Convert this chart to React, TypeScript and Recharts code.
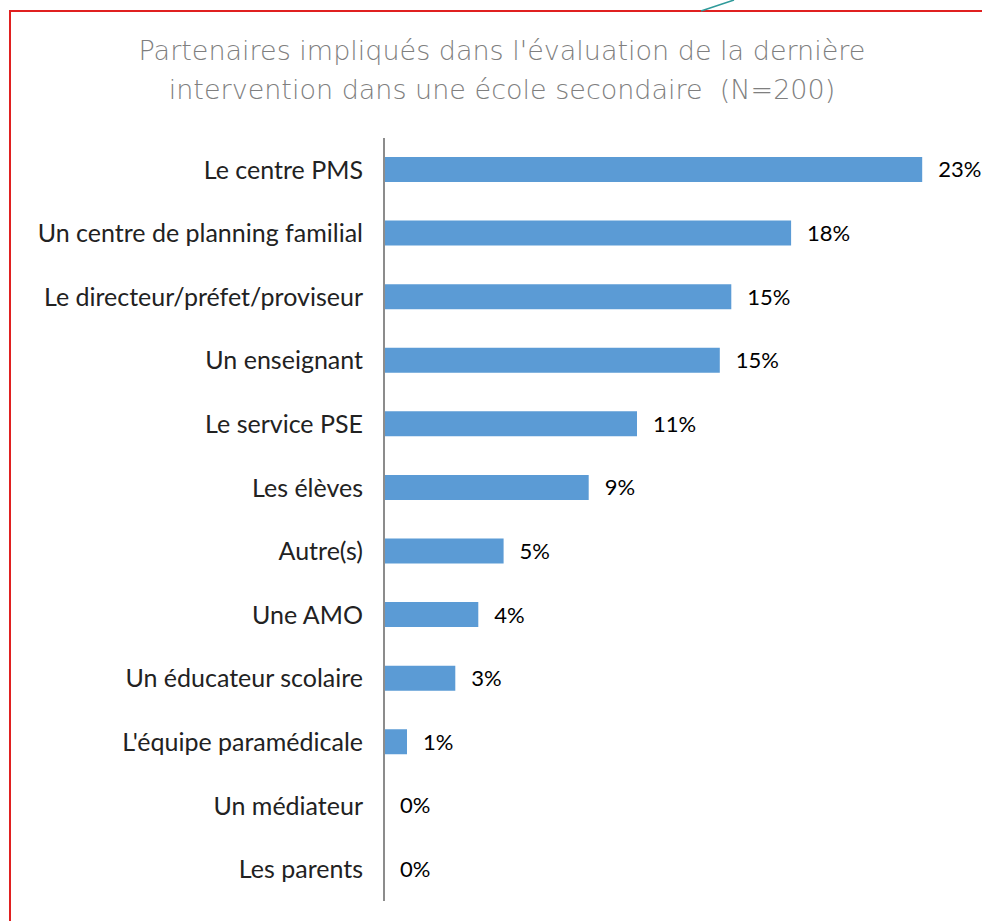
import { Bar, BarChart, LabelList, XAxis, YAxis } from "recharts"

const CATEGORIES = [
  "Le centre PMS",
  "Un centre de planning familial",
  "Le directeur/préfet/proviseur",
  "Un enseignant",
  "Le service PSE",
  "Les élèves",
  "Autre(s)",
  "Une AMO",
  "Un éducateur scolaire",
  "L'équipe paramédicale",
  "Un médiateur",
  "Les parents",
]

// share of partners (%)
const SHARES = [23.4, 17.7, 15.1, 14.6, 11.0, 8.9, 5.2, 4.1, 3.1, 1.0, 0, 0]

const TITLE_LINES = [
  "Partenaires impliqués dans l'évaluation de la dernière",
  "intervention dans une école secondaire  (N=200)",
]

const BAR_COLOR = "#5B9BD5"

const data = CATEGORIES.map((name, i) => ({ name, value: SHARES[i] }))

// draws the % next to each bar, zero-length bars included
function ValueLabel(props: any) {
  const { x, y, width, height, value } = props
  const w = Number(width) < 0.5 ? 0 : Number(width)
  return (
    <text
      x={Number(x) + w + 16}
      y={Number(y) + Number(height) / 2}
      dy="0.36em"
      fill="#000"
      fontSize={22}
      fontFamily="Lato, sans-serif"
    >
      {`${Math.round(Number(value))}%`}
    </text>
  )
}

export default function App() {
  return (
    <div style={{ position: "absolute", left: 0, top: 0, width: 982, height: 921, background: "#fff", overflow: "hidden" }}>
      {/* frame decoration */}
      <div
        style={{
          position: "absolute",
          left: 9,
          top: 10,
          width: 990,
          height: 930,
          borderLeft: "2px solid #E02020",
          borderTop: "2px solid #E02020",
        }}
      />
      <svg style={{ position: "absolute", left: 0, top: 0 }} width={982} height={12}>
        <line x1={701} y1={11} x2={734} y2={0} stroke="#2E9A9A" strokeWidth={1.5} />
      </svg>

      <div
        style={{
          position: "absolute",
          left: 20,
          top: 31,
          width: 964,
          textAlign: "center",
          fontFamily: "'DejaVu Sans', sans-serif",
          fontWeight: 200,
          fontSize: 27,
          lineHeight: "39px",
          color: "#7F7F7F",
        }}
      >
        {TITLE_LINES.map((l) => (
          <div key={l} style={{ whiteSpace: "pre" }}>{l}</div>
        ))}
      </div>

      <div style={{ position: "absolute", left: 0, top: 0 }}>
        <BarChart
          width={982}
          height={921}
          data={data}
          layout="vertical"
          margin={{ top: 138, right: 23, bottom: 20, left: 20 }}
        >
          <XAxis type="number" domain={[0, 25]} hide />
          <Bar
            dataKey="value"
            fill={BAR_COLOR}
            barSize={25}
            minPointSize={(v: number) => (v === 0 ? 0.01 : 0)}
            isAnimationActive={false}
          >
            <LabelList dataKey="value" content={ValueLabel} />
          </Bar>
          <YAxis
            type="category"
            dataKey="name"
            width={364}
            tickLine={false}
            tickSize={0}
            tickMargin={21}
            axisLine={{ stroke: "#8C8C8C", strokeWidth: 2 }}
            tick={{ fill: "#222", fontSize: 25, fontFamily: "Lato, sans-serif" }}
            interval={0}
          />
        </BarChart>
      </div>
    </div>
  )
}
